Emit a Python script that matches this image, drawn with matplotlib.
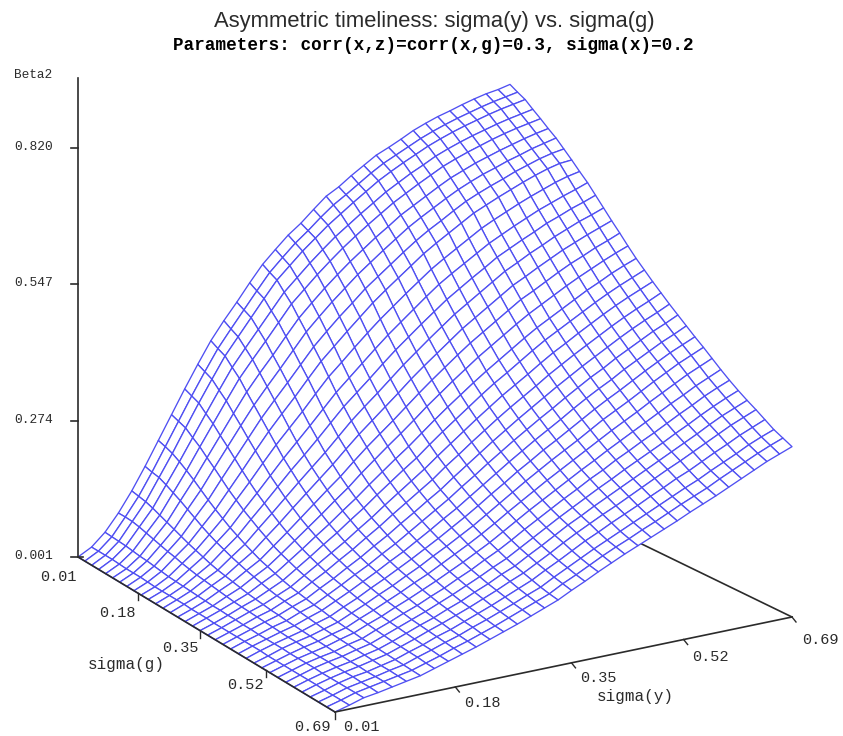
import numpy as np
import matplotlib
matplotlib.use("Agg")
import matplotlib.pyplot as plt
from matplotlib.collections import PolyCollection

sigma_g = [0.01 + 0.02 * k for k in range(35)]
sigma_y = [0.01 + 0.02 * k for k in range(35)]
z_ticks = [0.001, 0.274, 0.547, 0.820]
g_ticks = [0.01, 0.18, 0.35, 0.52, 0.69]
y_ticks = [0.01, 0.18, 0.35, 0.52, 0.69]

# Beta2 x 1000: one list per sigma(y) value, running over sigma(g)
beta2_milli = [
 [1]*35,
 [16,16,16,16,15,14,14,14,13,12,12,12,12,12,11,11,11,10,10,10,10,10,10,10,9,9,9,9,9,9,9,8,8,8,8],
 [41,40,39,38,36,34,33,31,29,27,26,25,24,23,22,21,21,20,20,19,19,18,18,18,18,17,17,17,17,16,16,16,16,16,16],
 [75,75,74,71,67,63,59,55,52,48,45,42,40,38,36,34,32,31,30,29,28,27,26,25,25,24,23,23,23,22,22,22,21,21,20],
 [115,112,109,104,98,92,86,80,74,69,64,59,55,52,49,46,43,41,39,37,36,34,33,32,31,30,29,28,28,27,27,26,26,26,25],
 [160,156,153,146,138,130,121,112,103,95,88,82,76,71,66,62,58,54,51,49,47,45,43,41,39,38,37,36,35,34,33,32,32,31,30],
 [208,203,197,188,178,167,155,143,132,122,112,104,96,89,82,77,72,67,63,60,57,54,52,49,47,45,44,42,41,40,39,38,37,36,35],
 [256,250,244,232,221,207,194,180,166,154,142,132,122,113,104,97,91,85,80,76,72,68,65,62,59,57,55,53,51,49,48,47,46,44,43],
 [304,297,290,276,263,247,232,216,200,185,171,159,147,136,126,118,110,103,97,91,86,82,78,74,71,68,65,63,61,59,57,55,54,52,51],
 [350,342,334,319,305,287,270,252,235,218,201,187,173,161,149,139,130,122,114,108,102,97,92,88,84,80,77,74,71,69,67,65,63,61,59],
 [394,385,377,361,346,326,307,288,269,250,231,215,199,185,172,160,149,140,131,124,117,111,106,101,96,92,88,84,81,78,76,73,71,69,67],
 [431,421,412,396,380,360,340,320,300,279,259,241,224,209,195,182,170,160,150,142,134,127,121,115,110,105,100,96,92,89,86,83,81,78,76],
 [465,456,447,430,413,392,372,351,330,308,287,268,249,233,217,203,190,179,168,159,150,142,135,129,123,117,112,107,103,99,96,93,90,87,85],
 [501,491,482,464,447,426,405,383,362,339,316,296,276,259,242,227,212,200,188,178,168,159,151,144,138,131,125,120,115,111,107,103,100,97,94],
 [535,525,516,498,481,459,438,415,393,369,345,324,303,284,266,249,233,220,207,196,185,176,167,159,152,145,138,132,127,122,118,114,110,107,104],
 [562,552,542,524,507,486,465,442,419,394,370,348,327,307,288,271,254,240,226,214,203,193,184,175,167,159,152,146,140,135,130,125,121,117,114],
 [588,578,568,550,533,512,491,468,445,420,395,372,350,330,310,292,274,259,245,232,220,210,200,191,182,174,166,159,152,146,141,136,131,127,124],
 [609,600,591,574,557,536,515,492,470,445,420,397,374,353,333,314,296,281,266,253,240,229,218,208,199,190,182,174,167,161,155,150,145,141,137],
 [634,624,614,597,580,559,539,517,495,469,444,421,398,377,356,337,318,302,286,272,259,247,236,226,216,207,198,190,182,175,169,163,158,153,149],
 [658,646,634,617,601,580,560,538,517,491,466,443,420,399,378,358,339,322,306,292,278,266,254,243,233,223,214,205,197,190,184,177,171,166,162],
 [674,664,654,637,621,601,581,559,538,513,488,465,442,420,399,379,359,342,326,311,297,284,272,261,250,239,229,220,212,205,198,191,184,179,174],
 [694,683,673,656,640,620,601,580,559,534,510,486,463,441,420,399,379,362,345,330,315,302,289,277,266,255,244,235,226,218,211,203,196,191,186],
 [712,702,692,675,659,640,621,600,580,555,531,507,484,462,440,419,398,381,364,348,333,319,306,294,282,270,259,249,240,232,224,216,208,202,197],
 [730,719,708,691,675,656,638,618,598,573,549,525,502,480,458,437,416,398,381,365,350,336,322,309,297,285,274,264,254,245,236,228,220,214,208],
 [743,733,723,707,691,672,654,634,615,590,566,543,520,498,476,455,434,416,398,382,367,352,338,325,312,300,288,277,267,258,249,240,232,225,219],
 [757,747,737,721,706,688,670,651,632,607,583,560,538,516,494,473,452,434,416,400,384,369,355,341,328,315,303,292,281,271,262,253,244,237,230],
 [772,761,751,736,721,703,685,667,649,624,600,578,556,534,512,490,469,451,433,416,400,385,371,357,344,330,317,305,294,284,275,265,256,249,242],
 [784,773,763,748,733,715,698,680,662,638,614,592,570,548,526,505,484,466,448,432,416,401,386,372,358,344,331,319,307,297,288,278,268,260,253],
 [795,784,774,759,744,727,710,692,675,651,628,606,585,563,541,520,499,481,464,447,431,415,400,386,372,358,345,332,320,310,300,289,279,271,264],
 [804,794,784,769,754,737,720,703,687,664,641,619,598,577,556,535,514,496,479,462,446,431,416,401,387,373,359,346,334,323,313,302,292,284,276],
 [814,803,793,778,764,747,731,715,699,676,654,633,612,591,570,549,529,511,494,477,461,445,430,416,402,387,373,360,347,336,326,315,304,296,288],
 [823,812,802,787,773,756,740,725,710,687,665,644,624,603,582,562,542,525,508,491,475,459,444,430,416,401,386,373,361,350,339,327,316,308,300],
 [831,820,810,795,781,765,750,735,720,698,676,656,636,615,595,575,556,538,521,504,488,473,458,444,430,415,400,387,374,363,352,340,329,320,312],
 [837,827,817,802,788,773,758,743,728,707,686,666,646,626,606,587,568,550,533,516,500,485,470,456,442,427,412,399,386,374,363,351,340,331,322],
 [845,834,824,809,795,780,766,749,732,714,697,677,657,637,618,598,579,562,545,529,513,498,483,468,454,439,424,410,397,385,374,362,350,341,332],
]

W, H = 843, 736
BLUE = "#4f4ff2"
INK = "#2b2b2b"
MONO = "Liberation Mono"

# Camera: where the floor corners fall on the page, and page units per unit of Beta2
A, B, C, D = (78, 557), (335, 712), (792, 617), (510, 480)
Z_SCALE = 499.4


def camera():
    rows, rhs = [], []
    for (u, v), (x, y) in zip([(0, 0), (1, 0), (1, 1), (0, 1)], [A, B, C, D]):
        rows.append([u, v, 1, 0, 0, 0, -u * x, -v * x]); rhs.append(x)
        rows.append([0, 0, 0, u, v, 1, -u * y, -v * y]); rhs.append(y)
    return np.linalg.solve(np.array(rows, float), np.array(rhs, float))


CAM = camera()


def project(g, y, z=0.001):
    u = (np.asarray(g, float) - 0.01) / 0.68
    v = (np.asarray(y, float) - 0.01) / 0.68
    w = CAM[6] * u + CAM[7] * v + 1
    px = (CAM[0] * u + CAM[1] * v + CAM[2]) / w
    py = (CAM[3] * u + CAM[4] * v + CAM[5]) / w - Z_SCALE * (np.asarray(z, float) - 0.001) / w
    return px, py, w


fig = plt.figure(figsize=(W / 100, H / 100), dpi=100, facecolor="white")
ax = fig.add_axes([0, 0, 1, 1])
ax.set_xlim(0, W)
ax.set_ylim(H, 0)
ax.axis("off")

# floor edge partly hidden by the surface
cd = project([0.01, 0.69], [0.69, 0.69])
ax.plot(cd[0], cd[1], color=INK, lw=1.2, zorder=1)

# surface
G, Y = np.meshgrid(sigma_g, sigma_y)
Z = np.array(beta2_milli) / 1000
PX, PY, PW = project(G, Y, Z)
quads, depth = [], []
for i in range(len(sigma_y) - 1):
    for j in range(len(sigma_g) - 1):
        quads.append([(PX[i, j], PY[i, j]), (PX[i + 1, j], PY[i + 1, j]),
                      (PX[i + 1, j + 1], PY[i + 1, j + 1]), (PX[i, j + 1], PY[i, j + 1])])
        depth.append(PW[i, j])
order = np.argsort(depth)[::-1]
ax.add_collection(PolyCollection([quads[k] for k in order], facecolors="white",
                                 edgecolors=BLUE, linewidths=0.95, zorder=2))

# floor edges in front
for gs, ys in [([0.01, 0.69], [0.01, 0.01]), ([0.69, 0.69], [0.01, 0.69])]:
    p = project(gs, ys)
    ax.plot(p[0], p[1], color=INK, lw=1.2, zorder=3)

# vertical axis
ax.plot([A[0], A[0]], [78, A[1]], color=INK, lw=1.2, zorder=3)
for t in z_ticks:
    py = project(0.01, 0.01, t)[1]
    ax.plot([A[0] - 7, A[0] + (5 if t == z_ticks[0] else 0)], [py, py], color=INK, lw=1.2, zorder=3)
    ax.text(14, py - 1, f"{t:.3f}", family=MONO, fontsize=9.3, ha="left", va="center", color=INK)
ax.text(14, 75, "Beta2", family=MONO, fontsize=9.2, ha="left", va="center", color=INK)

# floor ticks and labels
for t, (lx, ly) in zip(g_ticks, [(58, 577), (117, 613), (180, 648), (245, 685), (312, 727)]):
    px, py, _ = project(t, 0.01)
    if t > 0.01:
        ax.plot([px, px], [py, py + 7], color=INK, lw=1.0, zorder=3)
    ax.text(lx, ly, f"{t:.2f}", family=MONO, fontsize=11, ha="center", va="center", color=INK)
for t, (lx, ly) in zip(y_ticks, [(361, 727), (482, 703), (598, 678), (710, 657), (820, 640)]):
    px, py, _ = project(0.69, t)
    if t > 0.01:
        ax.plot([px, px + 4], [py, py + 5], color=INK, lw=1.0, zorder=3)
    ax.text(lx, ly, f"{t:.2f}", family=MONO, fontsize=11, ha="center", va="center", color=INK)
ax.text(126, 665, "sigma(g)", family=MONO, fontsize=11.5, ha="center", va="center", color=INK)
ax.text(635, 697, "sigma(y)", family=MONO, fontsize=11.5, ha="center", va="center", color=INK)

ax.text(434, 22, "Asymmetric timeliness: sigma(y) vs. sigma(g)", family="Liberation Sans",
        fontsize=15.8, ha="center", va="center", color=INK)
ax.text(433, 46, "Parameters: corr(x,z)=corr(x,g)=0.3, sigma(x)=0.2", family=MONO,
        fontweight="bold", fontsize=12.7, ha="center", va="center", color="black")

fig.savefig("out.png", dpi=100, facecolor="white")
